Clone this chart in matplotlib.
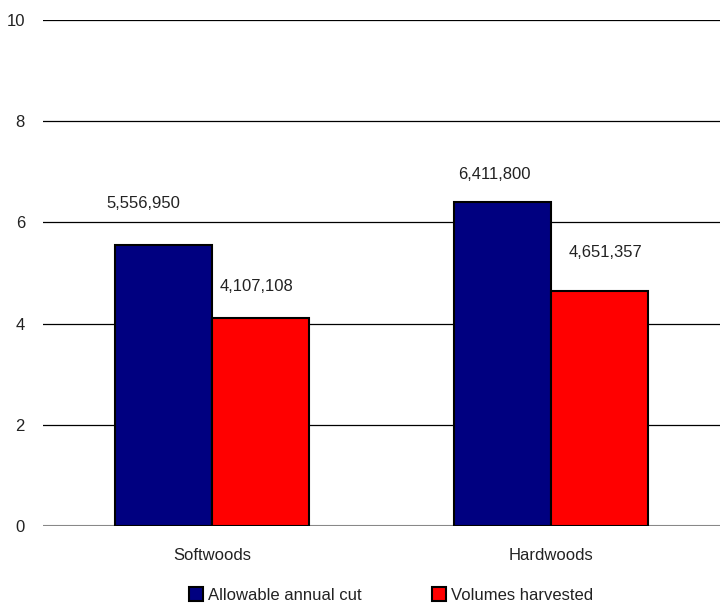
import matplotlib
matplotlib.use('Agg')
import matplotlib.pyplot as plt
from matplotlib.patches import Patch
import numpy as np

plt.rcParams['font.family'] = ['Liberation Sans Narrow', 'Liberation Sans', 'DejaVu Sans']

# 数据（百万立方米）
categories = ['Softwoods', 'Hardwoods']
allowable_cut = [5.556950, 6.411800]
volumes_harvested = [4.107108, 4.651357]
cut_labels = ['5,556,950', '6,411,800']
harvest_labels = ['4,107,108', '4,651,357']
series_names = ['Allowable annual cut', 'Volumes harvested']
colors = ['#000080', '#ff0000']

# 数值标签偏移（点）
cut_offsets = [(-15, 30), (-5.4, 19.4)]
harvest_offsets = [(-3, 23), (4.7, 27.8)]

fig = plt.figure(figsize=(7.22, 6.06), dpi=100)
ax = fig.add_axes([0.0596, 0.132, 0.9374, 0.835])

x = np.arange(len(categories))
w = 0.287
b1 = ax.bar(x - w / 2, allowable_cut, w, color=colors[0], edgecolor='black', linewidth=1.5, zorder=3)
b2 = ax.bar(x + w / 2, volumes_harvested, w, color=colors[1], edgecolor='black', linewidth=1.5, zorder=3)

for bars, labels, offs in ((b1, cut_labels, cut_offsets), (b2, harvest_labels, harvest_offsets)):
    for bar, lab, off in zip(bars, labels, offs):
        ax.annotate(lab, (bar.get_x() + bar.get_width() / 2, bar.get_height()),
                    xytext=off, textcoords='offset points',
                    ha='center', va='center', fontsize=12, color='#222222')

ax.set_xlim(-0.5, 1.5)
ax.set_ylim(0, 10)
ax.set_yticks([0, 2, 4, 6, 8, 10])
ax.yaxis.grid(True, color='black', linewidth=0.9, zorder=0)
for s in ax.spines.values():
    s.set_visible(False)
ax.axhline(0, color='#888888', linewidth=1.5, zorder=2)
ax.tick_params(axis='both', length=0, labelsize=12, colors='#222222')
ax.tick_params(axis='y', pad=13)
ax.tick_params(axis='x', pad=16)
ax.set_xticks(x)
ax.set_xticklabels(categories)

handles = [Patch(facecolor=c, edgecolor='black', linewidth=1.5) for c in colors]
fig.legend(handles, series_names, loc='center', bbox_to_anchor=(0.542, 0.018),
           ncol=2, frameon=False, fontsize=12, handlelength=0.84, handleheight=0.84,
           handletextpad=0.3, columnspacing=4.25, labelcolor='#222222',
           borderpad=0, borderaxespad=0)

fig.savefig('out.png', dpi=100)
